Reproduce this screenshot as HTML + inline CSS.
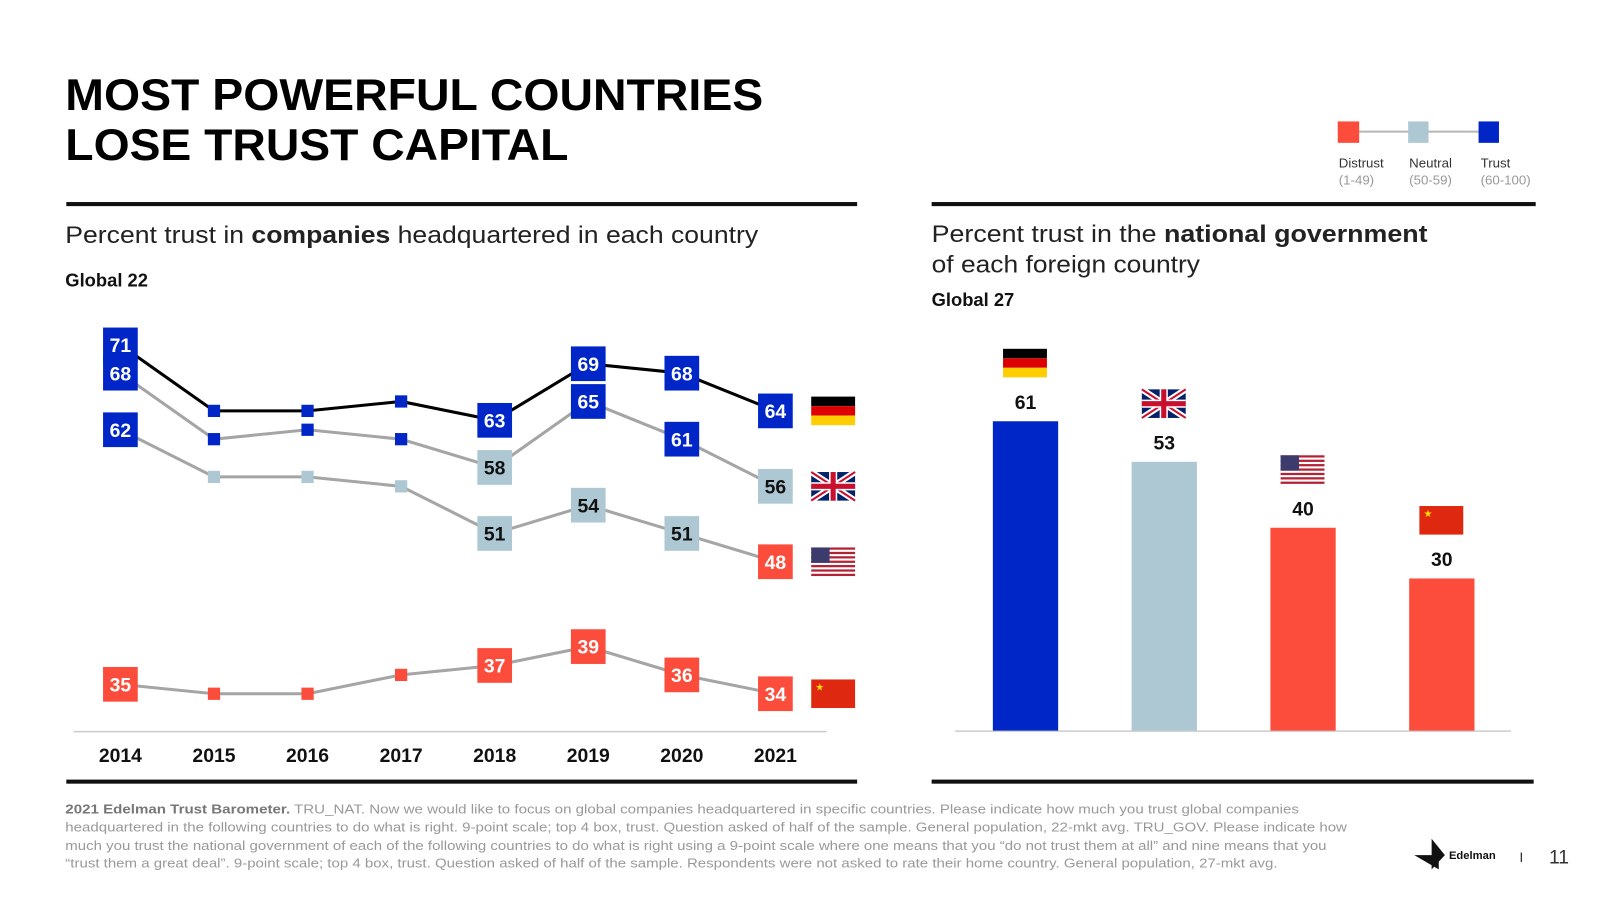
<!DOCTYPE html>
<html><head><meta charset="utf-8"><style>
body{margin:0;width:1600px;height:900px;background:#fff;overflow:hidden;font-family:"Liberation Sans",sans-serif}
svg{position:absolute;left:0;top:0}
</style></head><body>
<svg id="s" width="1600" height="900" xmlns="http://www.w3.org/2000/svg" font-family="Liberation Sans, sans-serif">
<defs>
<g id="fde"><rect width="43" height="9.3" fill="#000"/><rect y="9.3" width="43" height="9.3" fill="#dd0000"/><rect y="18.6" width="43" height="9.4" fill="#ffce00"/></g>
<g id="fuk"><rect width="43" height="28" fill="#012169"/><path d="M0 0L43 28M43 0L0 28" stroke="#fff" stroke-width="6"/><path d="M0 0L43 28M43 0L0 28" stroke="#c8102e" stroke-width="2"/><path d="M21.5 0V28M0 14H43" stroke="#fff" stroke-width="8"/><path d="M21.5 0V28M0 14H43" stroke="#c8102e" stroke-width="5"/></g>
<g id="fus"><rect width="43" height="28" fill="#fff"/><g fill="#b22234"><rect y="0" width="43" height="2.2"/><rect y="4.3" width="43" height="2.2"/><rect y="8.6" width="43" height="2.2"/><rect y="12.9" width="43" height="2.2"/><rect y="17.2" width="43" height="2.2"/><rect y="21.5" width="43" height="2.2"/><rect y="25.8" width="43" height="2.2"/></g><rect width="18" height="15" fill="#3c3b6e"/></g>
<g id="fcn"><rect width="43" height="28" fill="#de2910"/><text x="4" y="11" font-size="10" fill="#ffde00">★</text></g>
</defs>
<g transform="scale(1.0204)">
<text x="64" y="108" font-size="44" font-weight="bold" fill="#000" textLength="684" lengthAdjust="spacingAndGlyphs">MOST POWERFUL COUNTRIES</text>
<text x="64" y="157" font-size="44" font-weight="bold" fill="#000" textLength="493" lengthAdjust="spacingAndGlyphs">LOSE TRUST CAPITAL</text>
<g>
<line x1="1321" y1="129" x2="1459" y2="129" stroke="#b5b5b5" stroke-width="2"/>
<rect x="1311" y="119" width="21" height="21" fill="#fc4c3b"/><rect x="1380" y="119" width="20" height="21" fill="#adc8d3"/><rect x="1449" y="119" width="20" height="21" fill="#0026c8"/>
<text x="1312" y="164" font-size="13" fill="#333">Distrust</text><text x="1312" y="181" font-size="13" fill="#999">(1-49)</text>
<text x="1381" y="164" font-size="13" fill="#333">Neutral</text><text x="1381" y="181" font-size="13" fill="#999">(50-59)</text>
<text x="1451" y="164" font-size="13" fill="#333">Trust</text><text x="1451" y="181" font-size="13" fill="#999">(60-100)</text>
</g>
<rect x="65" y="198" width="775" height="4" fill="#111"/>
<rect x="913" y="198" width="592" height="4" fill="#111"/>
<rect x="65" y="764" width="775" height="4" fill="#111"/>
<rect x="913" y="764" width="590" height="4" fill="#111"/>
<text x="64" y="238" font-size="24" fill="#222" textLength="679" lengthAdjust="spacingAndGlyphs">Percent trust in <tspan font-weight="bold">companies</tspan> headquartered in each country</text>
<text x="64" y="281" font-size="18" font-weight="bold" fill="#111">Global 22</text>
<text x="913" y="237" font-size="24" fill="#222" textLength="486" lengthAdjust="spacingAndGlyphs">Percent trust in the <tspan font-weight="bold">national government</tspan></text>
<text x="913" y="267" font-size="24" fill="#222" textLength="263" lengthAdjust="spacingAndGlyphs">of each foreign country</text>
<text x="913" y="300" font-size="18" font-weight="bold" fill="#111">Global 27</text>
<line x1="72" y1="717" x2="810" y2="717" stroke="#ccc" stroke-width="1.5"/>
<line x1="936" y1="716.5" x2="1481" y2="716.5" stroke="#ccc" stroke-width="1.5"/>
<g id="lc"></g><g id="bc"></g>
<g font-size="12.5" fill="#999">
<text x="64" y="797" textLength="1209" lengthAdjust="spacingAndGlyphs"><tspan font-weight="bold" fill="#777">2021 Edelman Trust Barometer.</tspan> TRU_NAT. Now we would like to focus on global companies headquartered in specific countries. Please indicate how much you trust global companies</text>
<text x="64" y="815" textLength="1256" lengthAdjust="spacingAndGlyphs">headquartered in the following countries to do what is right. 9-point scale; top 4 box, trust. Question asked of half of the sample. General population, 22-mkt avg. TRU_GOV. Please indicate how</text>
<text x="64" y="833" textLength="1236" lengthAdjust="spacingAndGlyphs">much you trust the national government of each of the following countries to do what is right using a 9-point scale where one means that you “do not trust them at all” and nine means that you</text>
<text x="64" y="850" textLength="1188" lengthAdjust="spacingAndGlyphs">“trust them a great deal”. 9-point scale; top 4 box, trust. Question asked of half of the sample. Respondents were not asked to rate their home country. General population, 27-mkt avg.</text>
</g>
<g>
<path d="M1386 838L1410 838L1410 852Z" fill="#111"/><path d="M1403 822L1416 838L1403 852Z" fill="#111"/>
<text x="1420" y="842" font-size="11" font-weight="bold" fill="#111">Edelman</text>
</g>
<text x="1489" y="845" font-size="14" fill="#333">I</text>
<text x="1518" y="846" font-size="19" fill="#333">11</text>
</g>
</svg>
<script>
const years=["2014","2015","2016","2017","2018","2019","2020","2021"];
const germany=[71,64,64,65,63,69,68,64];
const uk=[68,61,62,61,58,65,61,56];
const usa=[62,57,57,56,51,54,51,48];
const china=[35,34,34,36,37,39,36,34];
const labeled=[true,false,false,false,true,true,true,true];
const barCountries=["Germany","UK","USA","China"];
const barValues=[61,53,40,30];
const NS="http://www.w3.org/2000/svg";
function el(t,a,p){const e=document.createElementNS(NS,t);for(const k in a)e.setAttribute(k,a[k]);p.appendChild(e);return e;}
function col(v){return v>=60?"#0026c8":v>=50?"#adc8d3":"#fc4c3b";}
function tcol(v){return v>=50&&v<60?"#111":"#fff";}
const xL=i=>118+i*91.7;
const yL=v=>338+(71-v)*9.24;
const lc=document.getElementById("lc");
const series=[["germany",germany,"#000","fde"],["uk",uk,"#a5a5a5","fuk"],["usa",usa,"#a5a5a5","fus"],["china",china,"#a5a5a5","fcn"]];
series.slice().reverse().forEach(([n,d,c])=>{
 const p=el("polyline",{points:d.map((v,i)=>xL(i)+","+yL(v)).join(" "),fill:"none",stroke:c,"stroke-width":3},lc);
 
 
});
series.forEach(([n,d,c,f])=>{
 d.forEach((v,i)=>{
  const g=el("g",{},lc);
  
  
  const x=xL(i),y=yL(v);
  if(labeled[i]){
   el("rect",{x:x-17,y:y-17,width:34,height:34,fill:col(v)},g);
   const t=el("text",{x:x,y:y+7,"font-size":19,"font-weight":"bold",fill:tcol(v),"text-anchor":"middle"},g);t.textContent=v;
  }else el("rect",{x:x-6,y:y-6,width:12,height:12,fill:col(v)},g);
 });
 const u=el("use",{href:"#"+f,x:795,y:yL(d[7])-14},lc);
 
 
});
years.forEach((yr,i)=>{const t=el("text",{x:xL(i),y:747,"font-size":19,"font-weight":"bold",fill:"#111","text-anchor":"middle"},lc);t.textContent=yr;
 
 });
const bc=document.getElementById("bc");
const flags=["fde","fuk","fus","fcn"];
const xB=i=>1005+i*136, yB=v=>716-v*4.97;
barValues.forEach((v,i)=>{
 const r=el("rect",{x:xB(i)-32,y:yB(v),width:64,height:716-yB(v),fill:col(v)},bc);
 
 
 const t=el("text",{x:xB(i),y:yB(v)-12,"font-size":19,"font-weight":"bold",fill:"#111","text-anchor":"middle"},bc);t.textContent=v;
 
 
 const u=el("use",{href:"#"+flags[i],x:xB(i)-22,y:yB(v)-71},bc);
 
 
});
</script>
</body></html>
